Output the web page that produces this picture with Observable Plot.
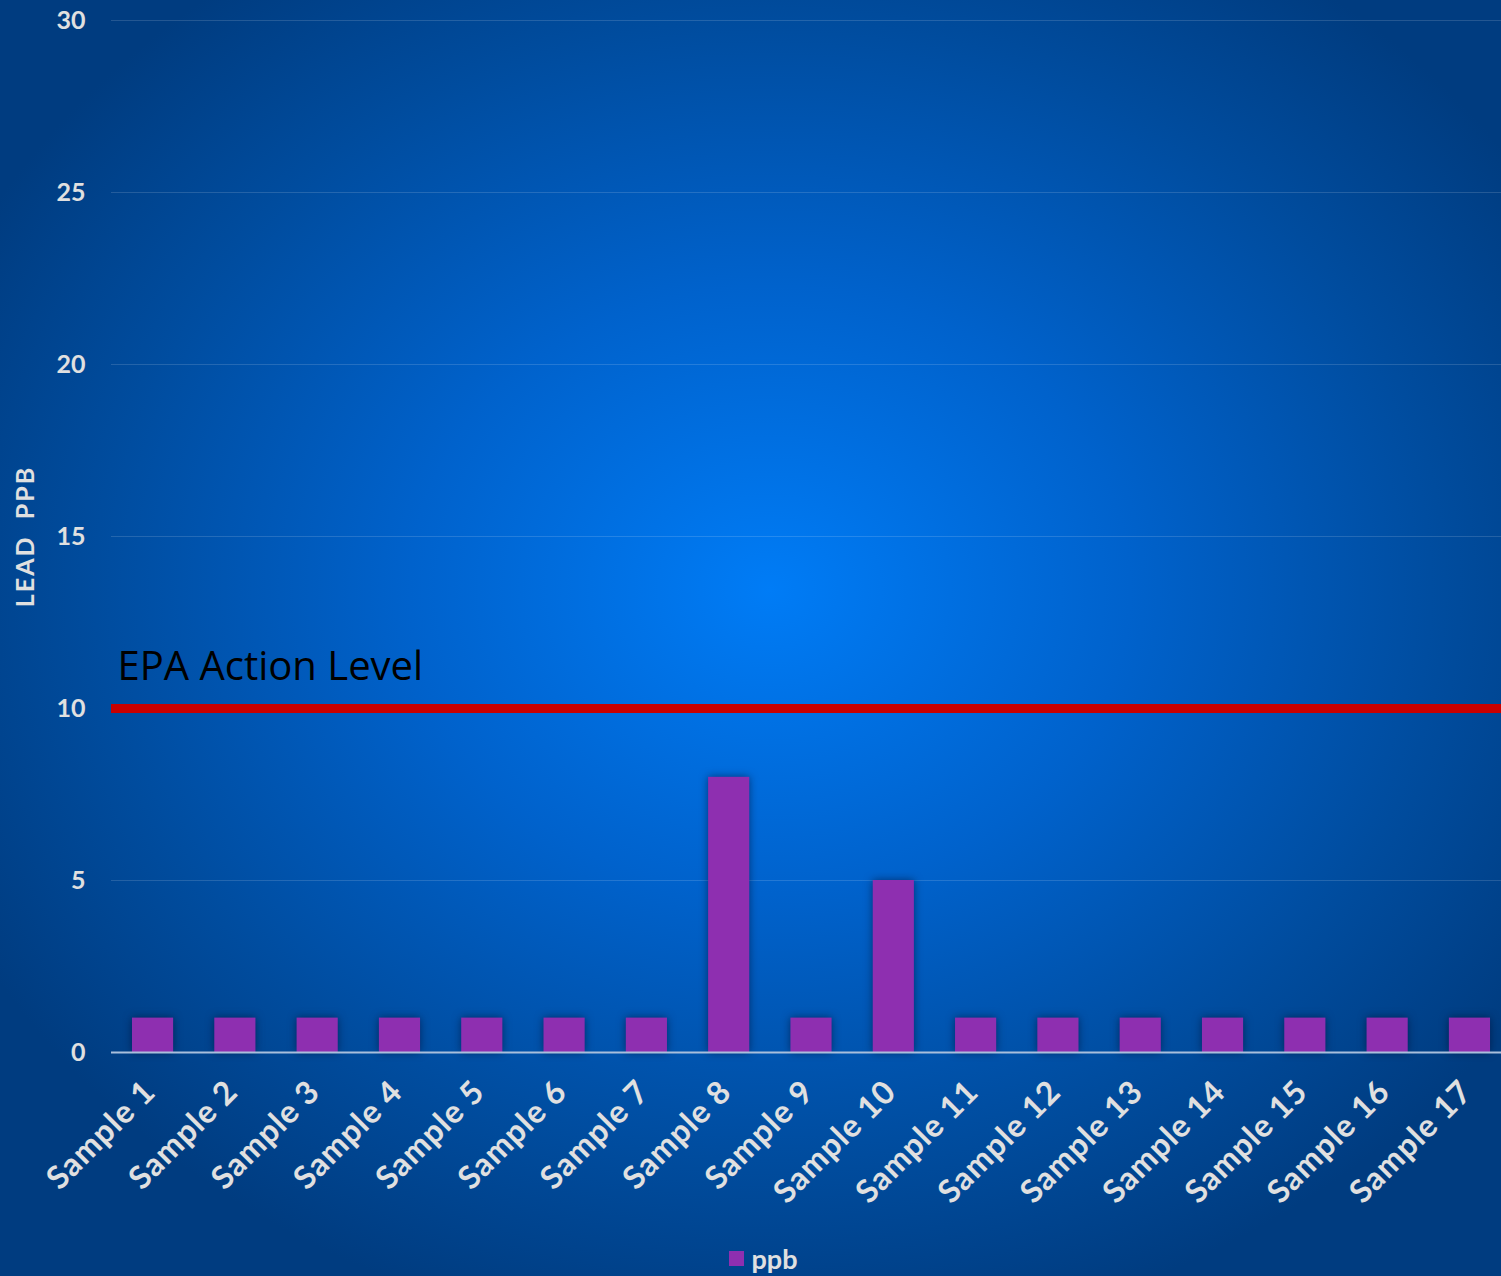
<!DOCTYPE html>
<html>
<head>
<meta charset="utf-8">
<script src="https://cdn.jsdelivr.net/npm/d3@7"></script>
<script src="https://cdn.jsdelivr.net/npm/@observablehq/plot@0.6"></script>
<style>
  html, body { margin: 0; padding: 0; }
  body {
    width: 1501px; height: 1276px; overflow: hidden;
    background: radial-gradient(ellipse 900px 760px at 770px 590px, #007cf6 0%, #0062cc 40%, #004c9e 75%, #003c80 100%);
    font-family: Lato, "Open Sans", sans-serif;
  }
  #legend {
    position: absolute; left: 0; top: 1240px; width: 1526px; height: 36px;
    display: flex; justify-content: center; align-items: center; gap: 8px;
    color: #e0e0e0; font-weight: bold; font-size: 27px;
  }
  #legend .sw { width: 15px; height: 15px; background: #8e2fb0; }
</style>
</head>
<body>
<div id="chart"></div>
<div id="legend"><span class="sw"></span><span>ppb</span></div>
<script>
const samples = ["Sample 1","Sample 2","Sample 3","Sample 4","Sample 5","Sample 6","Sample 7","Sample 8","Sample 9","Sample 10","Sample 11","Sample 12","Sample 13","Sample 14","Sample 15","Sample 16","Sample 17"];
const ppb = [1,1,1,1,1,1,1,8,1,5,1,1,1,1,1,1,1];
const actionLevel = [10];
const actionLabel = ["EPA Action Level"];
const yTicks = [0,5,10,15,20,25,30];
const yLabel = "LEAD  PPB";

const data = samples.map((s, i) => ({sample: s, ppb: ppb[i]}));

const W = 1501, H = 1240;
const chart = Plot.plot({
  width: W,
  height: H,
  marginTop: 20,
  marginBottom: H - 1052,
  marginLeft: 111,
  marginRight: 0,
  style: {background: "transparent", color: "#e0e0e0", fontFamily: "Lato, 'Open Sans', sans-serif", overflow: "visible"},
  x: {domain: samples, range: [111.4, 1510.6], paddingInner: 0.5, paddingOuter: 0.25, round: false, label: null},
  y: {domain: [0, 30], label: null},
  marks: [
    Plot.ruleY(yTicks.filter(d => d > 0), {stroke: "#ffffff", strokeOpacity: 0.14, strokeWidth: 1.2}),
    Plot.barY(data, {x: "sample", y: "ppb", fill: "#8e2fb0"}),
    Plot.ruleY([0], {stroke: "#a9bfdc", strokeWidth: 2}),
    Plot.ruleY(actionLevel, {stroke: "#c80000", strokeWidth: 9}),
    Plot.text(actionLabel, {frameAnchor: "left", y: actionLevel, dx: 6, dy: -41, textAnchor: "start", fill: "#000000", fontSize: 40, fontFamily: "'Open Sans', Lato, sans-serif"}),
    Plot.axisY({ticks: yTicks, tickSize: 0, tickPadding: 26, fontSize: 25, fontWeight: "bold", fill: "#e0e0e0", label: null}),
    Plot.axisX({tickSize: 0, tickRotate: -45, tickPadding: 34, dx: -3, fontSize: 32, fontWeight: "bold", fill: "#e0e0e0", label: null}),
    Plot.text([yLabel], {frameAnchor: "left", dx: -86, rotate: -90, textAnchor: "middle", fontSize: 25, fontWeight: "bold", fill: "#e0e0e0"})
  ]
});
document.getElementById("chart").appendChild(chart);
d3.select(chart).selectAll("g[aria-label='bar'] rect").style("filter", "drop-shadow(0px 0px 4px rgba(0,10,40,0.55))");
d3.select(chart).selectAll("g[aria-label='x-axis tick label'] text").style("letter-spacing", "1px");
d3.select(chart).selectAll("g[aria-label='text'] text").filter(function(){ return this.textContent.startsWith("LEAD"); }).style("letter-spacing", "2px");
</script>
</body>
</html>
